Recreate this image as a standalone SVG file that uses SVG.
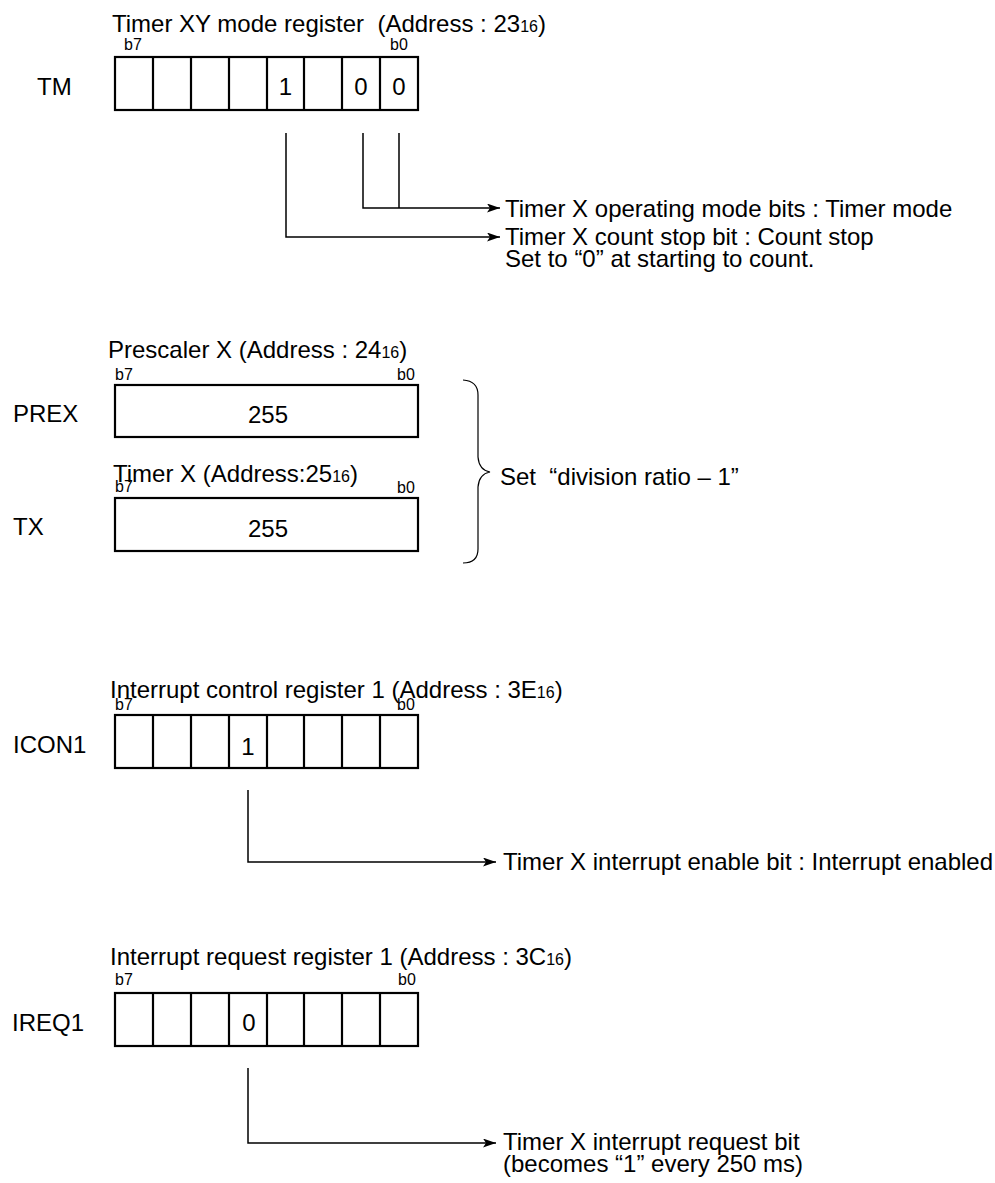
<svg xmlns="http://www.w3.org/2000/svg" width="995" height="1183" viewBox="0 0 995 1183">
<style>
text{font-family:"Liberation Sans",Arial,sans-serif;fill:#000}
.t{font-size:24px}
.lb{font-size:24px}
.bt{font-size:16px}
.sub{font-size:16px}
.box{fill:#fff;stroke:#000;stroke-width:2.2}
.div{stroke:#000;stroke-width:2.2}
.con{fill:none;stroke:#000;stroke-width:1.5}
.br{fill:none;stroke:#000;stroke-width:1.2}
</style>
<defs>
<marker id="ah" markerUnits="userSpaceOnUse" markerWidth="14" markerHeight="10" refX="13" refY="4.5" orient="auto">
<path d="M0,0 L13,4.5 L0,9 L3,4.5 z" fill="#000"/>
</marker>
</defs>
<rect width="995" height="1183" fill="#fff"/>

<g id="tm">
<text class="t" x="112" y="32" xml:space="preserve">Timer XY mode register  (Address : 23<tspan class="sub">16</tspan>)</text>
<text class="bt" x="124" y="50">b7</text>
<text class="bt" x="390" y="50">b0</text>
<text class="lb" x="37" y="95">TM</text>
<rect class="box" x="115" y="57" width="303" height="53"/>
<path class="div" d="M153,57V110M191,57V110M229,57V110M267,57V110M304,57V110M342,57V110M380,57V110"/>
<text class="t" x="285.5" y="95" text-anchor="middle">1</text>
<text class="t" x="361" y="95" text-anchor="middle">0</text>
<text class="t" x="399" y="95" text-anchor="middle">0</text>
</g>

<g id="prex">
<text class="t" x="108" y="358">Prescaler X (Address : 24<tspan class="sub">16</tspan>)</text>
<text class="bt" x="115" y="380">b7</text>
<text class="bt" x="397" y="380">b0</text>
<text class="lb" x="13" y="422">PREX</text>
<rect class="box" x="115" y="385" width="303" height="52"/>
<text class="t" x="268" y="423" text-anchor="middle">255</text>
</g>

<g id="tx">
<text class="t" x="113" y="482">Timer X (Address:25<tspan class="sub">16</tspan>)</text>
<text class="bt" x="115" y="492">b7</text>
<text class="bt" x="397" y="493">b0</text>
<text class="lb" x="13" y="535">TX</text>
<rect class="box" x="115" y="498" width="303" height="53"/>
<text class="t" x="268" y="537" text-anchor="middle">255</text>
</g>

<g id="brace">
<path class="br" d="M463,380 Q478,381 478,395 L478,457 Q479,470 490,472 Q479,474 478,487 L478,549 Q478,563 463,563"/>
<text class="t" x="500" y="485" xml:space="preserve">Set  “division ratio – 1”</text>
</g>

<g id="icon1">
<text class="t" x="110" y="698">Interrupt control register 1 (Address : 3E<tspan class="sub">16</tspan>)</text>
<text class="bt" x="115" y="710">b7</text>
<text class="bt" x="397" y="710">b0</text>
<text class="lb" x="13" y="753">ICON1</text>
<rect class="box" x="115" y="715" width="303" height="53"/>
<path class="div" d="M153,715V768M191,715V768M229,715V768M267,715V768M304,715V768M342,715V768M380,715V768"/>
<text class="t" x="248" y="755" text-anchor="middle">1</text>
</g>

<g id="ireq1">
<text class="t" x="110" y="965">Interrupt request register 1 (Address : 3C<tspan class="sub">16</tspan>)</text>
<text class="bt" x="115" y="985">b7</text>
<text class="bt" x="398" y="985">b0</text>
<text class="lb" x="12" y="1031">IREQ1</text>
<rect class="box" x="115" y="993" width="303" height="53"/>
<path class="div" d="M153,993V1046M191,993V1046M229,993V1046M267,993V1046M304,993V1046M342,993V1046M380,993V1046"/>
<text class="t" x="249" y="1031" text-anchor="middle">0</text>
</g>

<g id="labels">
<text class="t" x="505" y="217">Timer X operating mode bits : Timer mode</text>
<text class="t" x="505" y="245">Timer X count stop bit : Count stop</text>
<text class="t" x="505" y="267">Set to “0” at starting to count.</text>
<text class="t" x="503" y="870">Timer X interrupt enable bit : Interrupt enabled</text>
<text class="t" x="503" y="1150">Timer X interrupt request bit</text>
<text class="t" x="503" y="1172">(becomes “1” every 250 ms)</text>
</g>

<g id="connectors">
<path class="con" d="M399,133V208M363,133V208H500" marker-end="url(#ah)"/>
<path class="con" d="M286,133V237H500" marker-end="url(#ah)"/>
<path class="con" d="M248,790V862H496" marker-end="url(#ah)"/>
<path class="con" d="M248,1068V1143H496" marker-end="url(#ah)"/>
</g>
</svg>
